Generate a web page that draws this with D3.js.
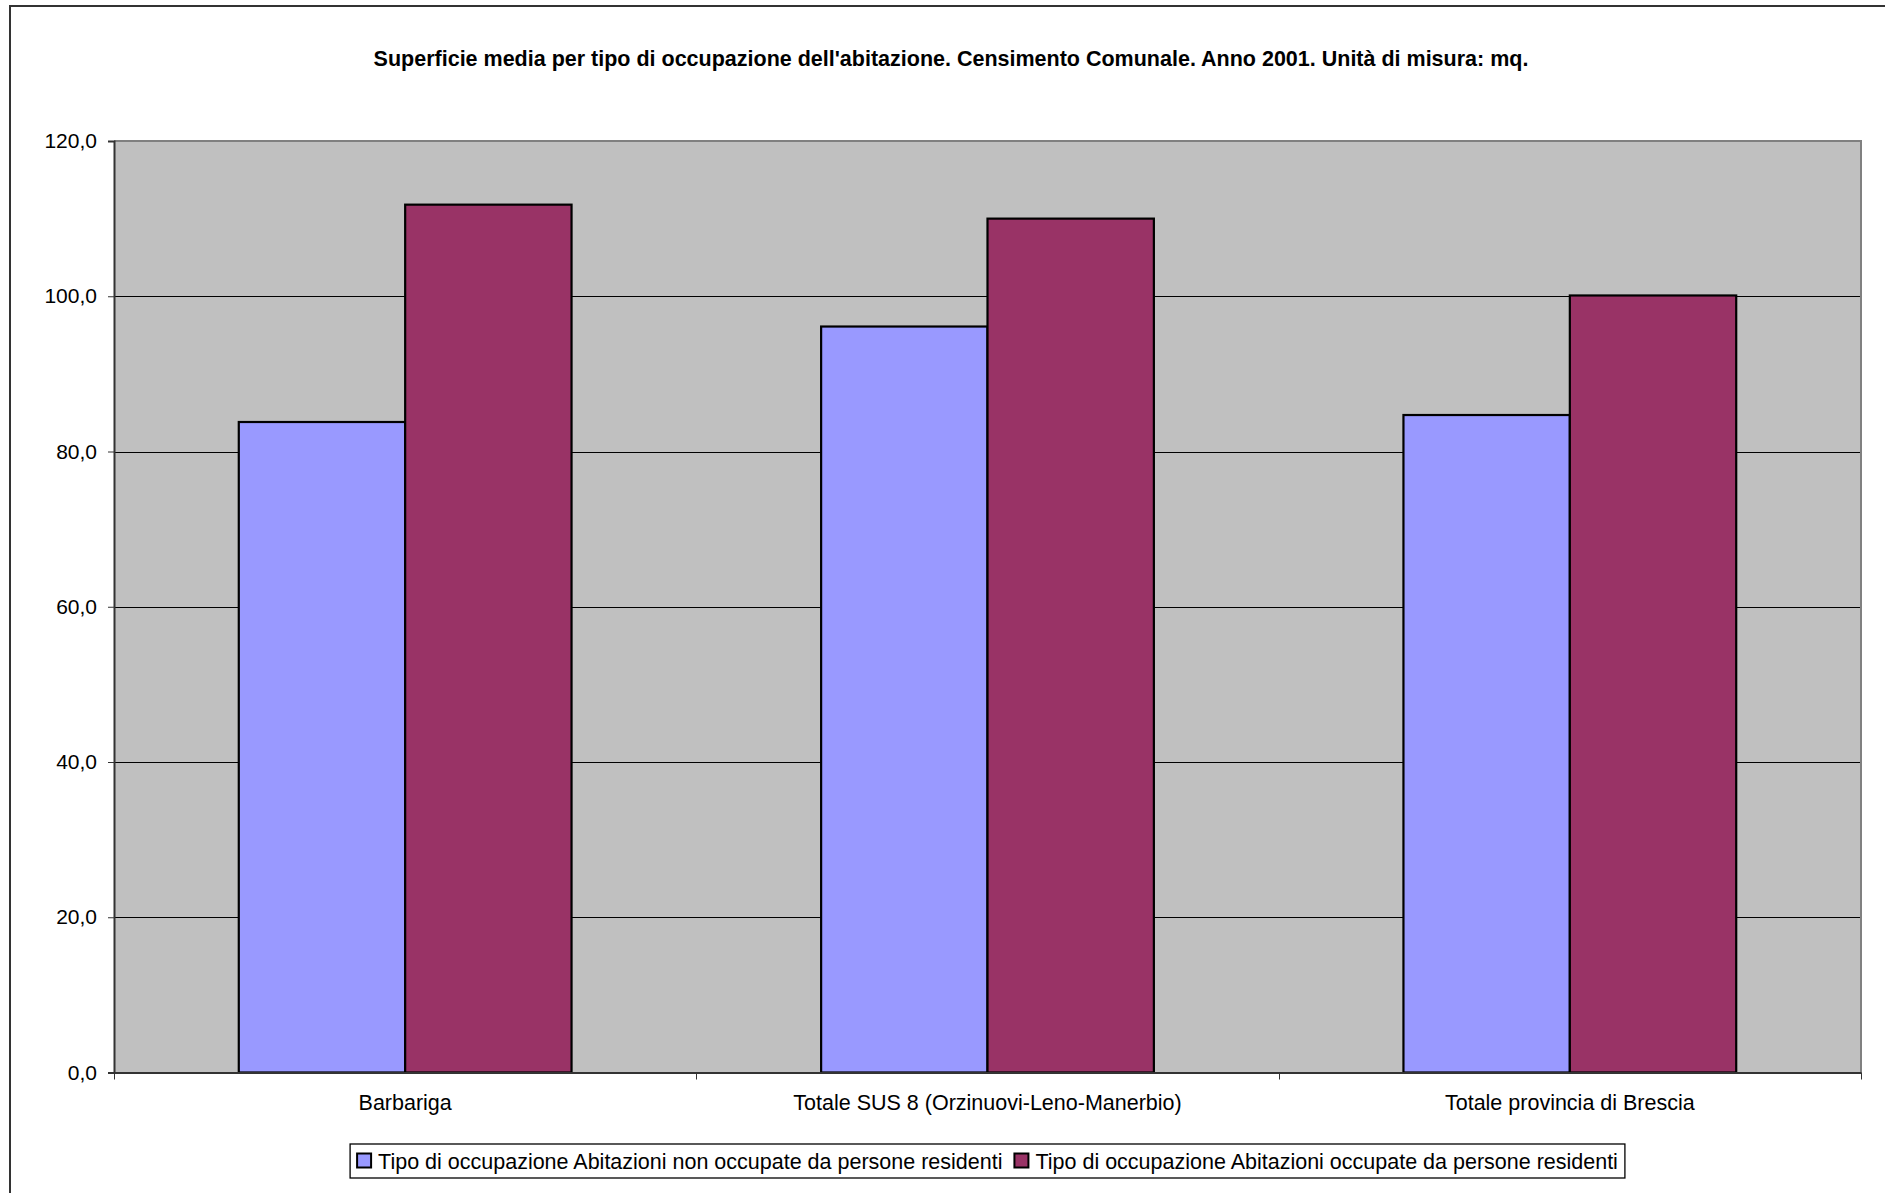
<!DOCTYPE html>
<html>
<head>
<meta charset="utf-8">
<script src="https://cdn.jsdelivr.net/npm/d3@7"></script>
<style>
html,body{margin:0;padding:0;background:#fff;}
svg{display:block;font-family:"Liberation Sans",Arial,sans-serif;}
</style>
</head>
<body>
<svg id="chart" width="1885" height="1193"></svg>
<script>
const title = "Superficie media per tipo di occupazione dell'abitazione. Censimento Comunale. Anno 2001. Unità di misura: mq.";
const categories = ["Barbariga", "Totale SUS 8 (Orzinuovi-Leno-Manerbio)", "Totale provincia di Brescia"];
const seriesNames = ["Tipo di occupazione Abitazioni non occupate da persone residenti", "Tipo di occupazione Abitazioni occupate da persone residenti"];
const nonOccupied = [83.8, 96.1, 84.7];
const occupied = [111.8, 110.0, 100.1];
const yTicks = [0, 20, 40, 60, 80, 100, 120];
const colors = ["#9999FF", "#993366"];

const seriesValues = [nonOccupied, occupied];
const svg = d3.select("#chart");

const plot = {left: 114, right: 1861, top: 141, bottom: 1072.5};

// outer chart border
svg.append("rect").attr("x", 10).attr("y", 6).attr("width", 1900).attr("height", 1200)
  .attr("fill", "#fff").attr("stroke", "#333").attr("stroke-width", 2);

const x0 = d3.scaleBand().domain(categories).range([plot.left, plot.right]).padding(0);
const x1 = d3.scaleBand().domain(d3.range(seriesNames.length)).range([0, x0.bandwidth()]).paddingInner(0).paddingOuter(0.75);
const y = d3.scaleLinear().domain([0, 120]).range([plot.bottom, plot.top]);

// plot background
svg.append("rect").attr("x", plot.left).attr("y", plot.top)
  .attr("width", plot.right - plot.left).attr("height", plot.bottom - plot.top)
  .attr("fill", "#C0C0C0");

// gridlines
svg.append("g").selectAll("line").data(yTicks.filter(d => d > 0 && d < 120)).join("line")
  .attr("x1", plot.left).attr("x2", plot.right)
  .attr("y1", d => Math.round(y(d)) + 0.5).attr("y2", d => Math.round(y(d)) + 0.5)
  .attr("stroke", "#000").attr("stroke-width", 1);

// plot border (top/right gray)
svg.append("path")
  .attr("d", `M${plot.left},${plot.top}H${plot.right}V${plot.bottom}`)
  .attr("fill", "none").attr("stroke", "#808080").attr("stroke-width", 2);

// bars
const groups = svg.append("g").selectAll("g").data(categories).join("g")
  .attr("transform", d => `translate(${x0(d)},0)`);
groups.selectAll("rect").data((d, i) => seriesValues.map((s, k) => ({k, v: s[i]}))).join("rect")
  .attr("x", d => x1(d.k)).attr("width", x1.bandwidth())
  .attr("y", d => y(d.v)).attr("height", d => y(0) - y(d.v))
  .attr("fill", d => colors[d.k]).attr("stroke", "#000").attr("stroke-width", 2.2);

// y axis
const yAxis = d3.axisLeft(y).tickValues(yTicks)
  .tickFormat(d => d.toFixed(1).replace(".", ","))
  .tickSize(6).tickPadding(11);
const gy = svg.append("g").attr("transform", `translate(${plot.left},0)`).call(yAxis);
gy.select(".domain").attr("stroke", "#333").attr("stroke-width", 2);
gy.selectAll(".tick line").attr("stroke", "#333").attr("stroke-width", 1);
gy.selectAll(".tick text").attr("font-size", 21).attr("fill", "#000")
  .attr("font-family", "Liberation Sans, Arial, sans-serif");

// x axis
const xAxis = d3.axisBottom(x0).tickSize(0).tickPadding(22);
const gx = svg.append("g").attr("transform", `translate(0,${plot.bottom})`).call(xAxis);
gx.select(".domain").attr("stroke", "#333").attr("stroke-width", 2);
gx.selectAll(".tick text").attr("font-size", 21.5).attr("fill", "#000")
  .attr("font-family", "Liberation Sans, Arial, sans-serif");
const bounds = categories.map(c => x0(c)).concat([x0.range()[1]]);
gx.append("g").selectAll("line").data(bounds).join("line")
  .attr("x1", d => Math.round(d) + 0.5).attr("x2", d => Math.round(d) + 0.5)
  .attr("y1", 0).attr("y2", 7).attr("stroke", "#333").attr("stroke-width", 1);

// title
svg.append("text").attr("x", 951).attr("y", 66).attr("text-anchor", "middle")
  .attr("font-size", 21.5).attr("font-weight", "bold").attr("fill", "#000")
  .text(title);

// legend
const lg = svg.append("g");
const legendItems = lg.selectAll("g").data(seriesNames).join("g");
let cx = 0;
const itemX = [];
legendItems.each(function(d, i) {
  const g = d3.select(this);
  g.append("rect").attr("x", 0).attr("y", -7.5).attr("width", 14).attr("height", 14)
    .attr("fill", colors[i]).attr("stroke", "#000").attr("stroke-width", 2);
  const t = g.append("text").attr("x", 21).attr("y", 7.5).attr("font-size", 21.5)
    .attr("fill", "#000").text(d);
  const w = t.node().getComputedTextLength();
  itemX.push(cx);
  cx += 21 + w + 12;
});
const contentW = cx - 12;
const boxW = contentW + 14;
const boxX = (plot.left + plot.right) / 2 - boxW / 2;
const boxY = 1144, boxH = 34;
lg.insert("rect", ":first-child").attr("x", boxX).attr("y", boxY).attr("width", boxW).attr("height", boxH)
  .attr("fill", "#fff").attr("stroke", "#000").attr("stroke-width", 1.3);
legendItems.attr("transform", (d, i) => `translate(${boxX + 7 + itemX[i]},${boxY + boxH / 2})`);
</script>
</body>
</html>
